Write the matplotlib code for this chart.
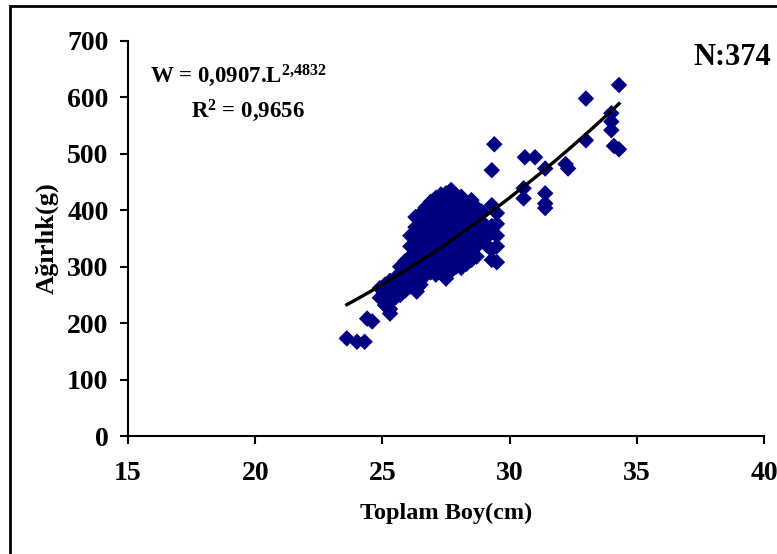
import matplotlib
matplotlib.use("Agg")
import matplotlib.pyplot as plt
import numpy as np
from matplotlib.patches import Rectangle

plt.rcParams['font.family'] = ['Liberation Serif', 'DejaVu Serif']
plt.rcParams['font.weight'] = 'bold'
plt.rcParams['mathtext.fontset'] = 'custom'
plt.rcParams['mathtext.rm'] = 'Liberation Serif:bold'
plt.rcParams['mathtext.bf'] = 'Liberation Serif:bold'
plt.rcParams['mathtext.it'] = 'Liberation Serif:bold'
plt.rcParams['mathtext.default'] = 'rm'

# Total length (cm)
length_cm = [
    23.6, 24.0, 24.3, 24.4, 24.6, 25.3,
    24.9, 24.9,
    25.1, 25.1, 25.1,
    25.3, 25.3, 25.3, 25.3,
    25.5, 25.5, 25.5,
    25.7, 25.7, 25.7, 25.7,
    25.9, 25.9, 25.9, 25.9,
    26.1, 26.1, 26.1, 26.1, 26.1, 26.1,
    26.3, 26.3, 26.3, 26.3, 26.3, 26.3, 26.3, 26.3,
    26.5, 26.5, 26.5, 26.5, 26.5, 26.5, 26.5, 26.5,
    26.7, 26.7, 26.7, 26.7, 26.7, 26.7, 26.7, 26.7,
    26.9, 26.9, 26.9, 26.9, 26.9, 26.9, 26.9, 26.9,
    27.1, 27.1, 27.1, 27.1, 27.1, 27.1, 27.1, 27.1, 27.1,
    27.3, 27.3, 27.3, 27.3, 27.3, 27.3, 27.3, 27.3, 27.3,
    27.5, 27.5, 27.5, 27.5, 27.5, 27.5, 27.5, 27.5, 27.5,
    27.7, 27.7, 27.7, 27.7, 27.7, 27.7, 27.7, 27.7, 27.7,
    27.9, 27.9, 27.9, 27.9, 27.9, 27.9, 27.9, 27.9,
    28.1, 28.1, 28.1, 28.1, 28.1, 28.1, 28.1, 28.1,
    28.3, 28.3, 28.3, 28.3, 28.3, 28.3, 28.3,
    28.5, 28.5, 28.5, 28.5, 28.5, 28.5, 28.5,
    28.7, 28.7, 28.7, 28.7, 28.7, 28.7,
    28.9, 28.9, 28.9, 28.9,
    29.1, 29.1, 29.1,
    29.3, 29.3, 29.3, 29.3,
    29.5, 29.5, 29.5, 29.5, 29.5,
    27.5, 27.6, 26.35,
    29.4, 29.3,
    30.55, 30.55, 30.6, 31.0, 31.4, 31.4, 31.4, 31.4,
    32.2, 32.3,
    33.0, 33.0, 34.3,
    34.0, 34.0, 34.0, 34.1, 34.3,
]

# Weight (g)
weight_g = [
    173, 167, 167, 208, 203, 217,
    245, 262,
    232, 250, 268,
    225, 240, 258, 275,
    245, 262, 280,
    250, 268, 285, 300,
    258, 275, 292, 310,
    265, 282, 300, 318, 336, 355,
    262, 280, 298, 316, 334, 352, 370, 388,
    268, 286, 304, 322, 340, 358, 376, 394,
    285, 303, 321, 339, 357, 375, 393, 405,
    290, 308, 326, 344, 362, 380, 398, 415,
    286, 304, 322, 340, 358, 376, 394, 412, 422,
    290, 308, 326, 344, 362, 380, 398, 416, 428,
    288, 306, 324, 342, 360, 378, 396, 414, 430,
    296, 314, 332, 350, 368, 386, 404, 422, 436,
    300, 318, 336, 354, 372, 390, 408, 426,
    298, 316, 334, 352, 370, 388, 406, 424,
    305, 323, 341, 359, 377, 395, 413,
    312, 330, 348, 366, 384, 402, 418,
    318, 336, 354, 372, 390, 405,
    345, 362, 380, 398,
    338, 352, 368,
    312, 330, 372, 409,
    308, 336, 355, 376, 395,
    279, 288, 256,
    517, 471,
    439, 421, 494, 494, 474, 430, 412, 404,
    482, 474,
    598, 524, 622,
    572, 557, 542, 514, 508,
]

# Power trend line shown on the chart: W = a * L^b
trend_a = 0.0907
trend_b = 2.4832

x_ticks = [15, 20, 25, 30, 35, 40]
y_ticks = [0, 100, 200, 300, 400, 500, 600, 700]

W, H = 777, 554
fig = plt.figure(figsize=(W / 100, H / 100), dpi=100)
ax = fig.add_axes([128 / W, 1 - 436 / H, (764 - 128) / W, (436 - 41) / H])

L = np.array(length_cm)
ax.scatter(L, weight_g, marker='D', s=8.4 ** 2, color='#000080',
           edgecolors='none', zorder=2)

xl = np.linspace(L.min(), L.max(), 100)
ax.plot(xl, trend_a * xl ** trend_b, color='black', lw=2.4, zorder=3)

ax.set_xlim(15, 40)
ax.set_ylim(0, 700)
ax.set_xticks(x_ticks)
ax.set_yticks(y_ticks)
for s in ['top', 'right']:
    ax.spines[s].set_visible(False)
for s in ['left', 'bottom']:
    ax.spines[s].set_linewidth(1.5)
ax.tick_params(direction='out', length=6, width=1.5, labelsize=20)
ax.tick_params(axis='x', pad=12)
ax.tick_params(axis='y', pad=8)
for lab in ax.get_xticklabels() + ax.get_yticklabels():
    lab.set_fontweight('bold')

ax.set_xlabel('Toplam Boy(cm)', fontsize=17.5, fontweight='bold', labelpad=12)
ax.set_ylabel('Ağırlık(g)', fontsize=19, fontweight='bold', labelpad=6)

fig.text(150 / W, 1 - 82 / H, 'W = 0,0907.L$^{2{,}4832}$', fontsize=16.5,
         fontweight='bold', ha='left', va='baseline')
fig.text(191 / W, 1 - 117 / H, 'R$^{2}$ = 0,9656', fontsize=16.5,
         fontweight='bold', ha='left', va='baseline')
fig.text(693 / W, 1 - 65 / H, 'N:374', fontsize=22,
         fontweight='bold', ha='left', va='baseline')

fig.patches.append(Rectangle((10 / W, -0.05), 1.2, 1 - 6 / H + 0.05,
                             transform=fig.transFigure, fill=False,
                             edgecolor='black', lw=2, zorder=10))

fig.savefig('out.png', dpi=100)
